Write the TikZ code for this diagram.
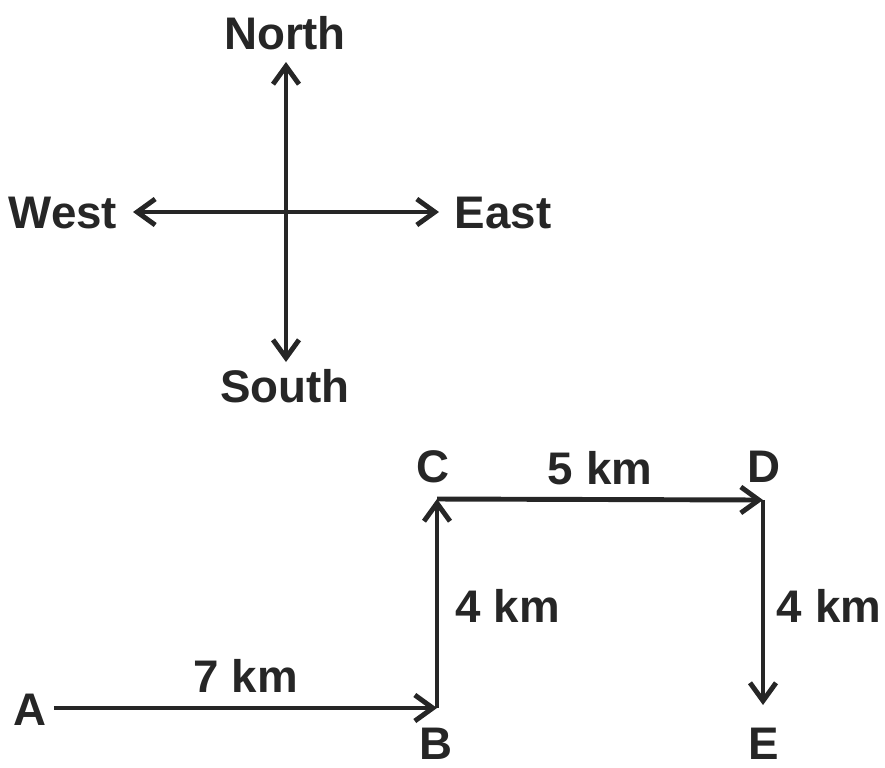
\documentclass[tikz,border=0pt]{standalone}
\usepackage{fontspec}
\setmainfont{Liberation Sans}
\usetikzlibrary{positioning,arrows.meta}

\begin{document}
\begin{tikzpicture}[
  x=0.2mm,y=-0.2mm,
  lbl/.style={font=\bfseries\fontsize{26}{30}\selectfont,text=black!85,inner sep=0pt},
  ln/.style={line width=2.8pt,draw=black!85},
  ar/.style={ln,-{Straight Barb[length=3.6mm,width=5.2mm]}}]
\useasboundingbox (0,0) rectangle (885,767);
% compass
\coordinate (o) at (286,212);
\coordinate (ntip) at (286,62);
\coordinate (stip) at (286,362);
\coordinate (wtip) at (133,212);
\coordinate (etip) at (439,212);
\node[lbl] (north) at (285,33) {North};
\node[lbl] (south) at (285,386) {South};
\node[lbl] (west) at (63,213) {West};
\node[lbl] (east) at (503,213) {East};
\draw[ar] (o)--(ntip); \draw[ar] (o)--(stip);
\draw[ar] (o)--(wtip); \draw[ar] (o)--(etip);
% route
\node[lbl] (a) at (30,710) {A};
\coordinate (pb) at (437,708);
\coordinate (pc) at (437,499);
\coordinate (pd) at (763,500);
\coordinate (pe) at (763,705);
\node[lbl] (b) at (436,744) {B};
\node[lbl] (c) at (433,467) {C};
\node[lbl] (d) at (764,467) {D};
\node[lbl] (e) at (764,744) {E};
\draw[ar] ([xshift=4]a.east |- pb)--(pb);
\draw[ar] (pb)--(pc);
\draw[ar] (pc)--(pd);
\draw[ar] (pd)--(pe);
% distances
\node[lbl] (ab) at (246,676) {7 km};
\node[lbl] (bc) at (508,606) {4 km};
\node[lbl] (cd) at (600,468) {5 km};
\node[lbl] (de) at (829,606) {4 km};
\end{tikzpicture}
\end{document}
